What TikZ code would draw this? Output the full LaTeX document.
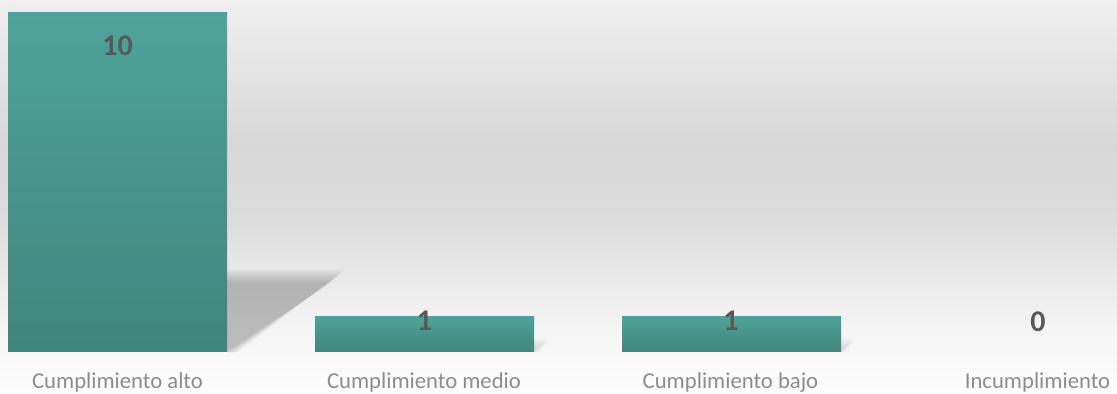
\documentclass[tikz,border=0pt]{standalone}
\usepackage{fontspec}
\setmainfont{Carlito}
\definecolor{bartop}{HTML}{4FA39A}
\definecolor{barbot}{HTML}{40857E}
\definecolor{valgray}{HTML}{595959}
\definecolor{labgray}{HTML}{8C8C8C}
\definecolor{bgA}{HTML}{EFEFEF}
\definecolor{bgB}{HTML}{E2E2E2}
\definecolor{bgC}{HTML}{D7D7D7}
\definecolor{bgD}{HTML}{DCDCDC}
\definecolor{bgE}{HTML}{EAEAEA}
\definecolor{bgF}{HTML}{F3F3F3}
\definecolor{bgG}{HTML}{F8F8F8}
\definecolor{bgH}{HTML}{FDFDFD}
\begin{document}
\begin{tikzpicture}[x=1bp,y=-1bp,
  bar/.style={top color=bartop,bottom color=barbot,draw=none,inner sep=0,
    minimum width=219bp,anchor=south west},
  val/.style={text=valgray,font=\fontsize{30bp}{30bp}\selectfont\bfseries,anchor=base,inner sep=0},
  cat/.style={text=labgray,font=\fontsize{22.7bp}{24bp}\selectfont,anchor=base,inner sep=0},
  shadowlayer/.style={fill=black,opacity=0.014,draw=none},
  smallshadow/.style={fill=black,opacity=0.012,draw=none}]
\useasboundingbox (0,0) rectangle (1117,393);
% background gradient
\shade[top color=bgA,bottom color=bgB] (0,0) rectangle (1117,80.5);
\shade[top color=bgB,bottom color=bgC] (0,80) rectangle (1117,145.5);
\shade[top color=bgC,bottom color=bgD] (0,145) rectangle (1117,220.5);
\shade[top color=bgD,bottom color=bgE] (0,220) rectangle (1117,280.5);
\shade[top color=bgE,bottom color=bgF] (0,280) rectangle (1117,320.5);
\shade[top color=bgF,bottom color=bgG] (0,320) rectangle (1117,352.5);
\shade[top color=bgG,bottom color=bgH] (0,352) rectangle (1117,393);
% shadow of the tall bar
\begin{scope}
  \clip (227,200) rectangle (600,352);
  \foreach \e in {-7,...,7} {
    \fill[shadowlayer] (227,{276-\e}) -- ({338+\e},{276-\e}) -- ({232+\e},352) -- (227,352) -- cycle;
  }
\end{scope}
% small shadows
\begin{scope}
  \clip (534,320) rectangle (600,352);
  \foreach \e in {-4,...,4} {
    \fill[smallshadow] (534,{342-\e}) -- ({545+\e},{342-\e}) -- ({537+\e},352) -- (534,352) -- cycle;
  }
\end{scope}
\begin{scope}
  \clip (840,320) rectangle (900,352);
  \foreach \e in {-4,...,4} {
    \fill[smallshadow] (840,{342-\e}) -- ({851+\e},{342-\e}) -- ({843+\e},352) -- (840,352) -- cycle;
  }
\end{scope}
% bars
\node[bar,minimum height=339bp] (b1) at (8,352) {};
\node[bar,minimum height=35bp] (b2) at (315,352) {};
\node[bar,minimum height=35bp] (b3) at (622,352) {};
% values
\node[val] (v1) at (117.5,55) {10};
\node[val] (v2) at (424.5,330.7) {1};
\node[val] (v3) at (731,330.7) {1};
\node[val] (v4) at (1038,331) {0};
% categories
\node[cat] (c1) at (117.5,388.5) {Cumplimiento alto};
\node[cat] (c2) at (424,388.5) {Cumplimiento medio};
\node[cat] (c3) at (730.5,388.5) {Cumplimiento bajo};
\node[cat] (c4) at (1037.5,388.5) {Incumplimiento};
\end{tikzpicture}
\end{document}
